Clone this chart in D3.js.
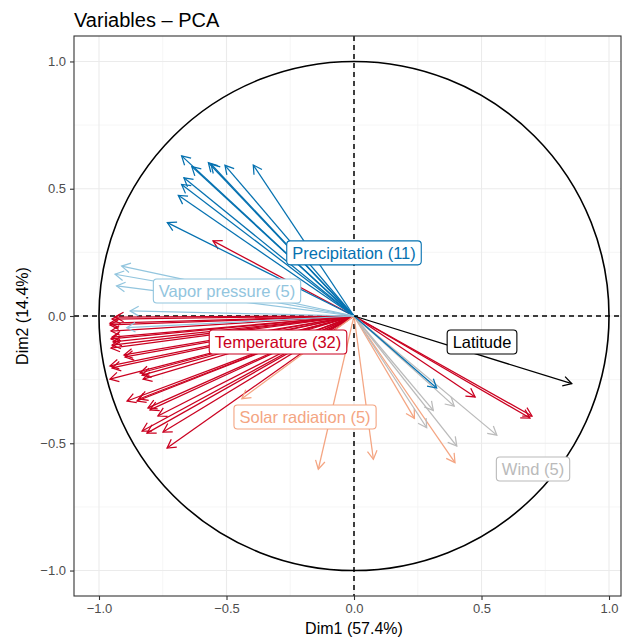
<!DOCTYPE html>
<html>
<head>
<meta charset="utf-8">
<script src="https://cdn.jsdelivr.net/npm/d3@7"></script>
<style>
  body { margin: 0; background: #fff; }
  text { font-family: "Liberation Sans", Arial, Helvetica, sans-serif; }
</style>
</head>
<body>
<svg id="chart" width="623" height="641"></svg>
<script>
// variable coordinates (Dim1, Dim2), one array per group
const temperature = [
  [-0.937, -0.004], [-0.949, -0.012], [-0.957, -0.028], [-0.953, -0.059],
  [-0.957, -0.035], [-0.949, -0.083], [-0.953, -0.090], [-0.945, -0.102],
  [-0.949, -0.114], [-0.953, -0.126], [-0.902, -0.153], [-0.898, -0.161],
  [-0.957, -0.196], [-0.949, -0.204], [-0.839, -0.224], [-0.831, -0.232],
  [-0.957, -0.248], [-0.827, -0.248], [-0.890, -0.334], [-0.851, -0.334],
  [-0.843, -0.326], [-0.808, -0.361], [-0.800, -0.369], [-0.769, -0.393],
  [-0.831, -0.452], [-0.812, -0.460], [-0.749, -0.456], [-0.733, -0.519],
  [-0.553, 0.295], [0.475, -0.318], [0.690, -0.401], [0.698, -0.393]
];
const solar = [[0.237, -0.402], [0.396, -0.576], [0.076, -0.563], [-0.140, -0.602], [-0.440, -0.325]];
const wind = [[0.393, -0.354], [0.311, -0.371], [0.285, -0.439], [0.403, -0.511], [0.560, -0.468]];
const precipitation = [
  [-0.676, 0.629], [-0.571, 0.602], [-0.561, 0.597], [-0.506, 0.592],
  [-0.395, 0.593], [-0.636, 0.587], [-0.667, 0.543], [-0.676, 0.517],
  [-0.689, 0.474], [-0.732, 0.367], [0.324, -0.283]
];
const vapor = [[-0.911, 0.196], [-0.937, 0.164], [-0.931, 0.118], [-0.878, 0.020], [-0.891, -0.046]];
const latitude = [[0.854, -0.266]];

const groupNames = ["Temperature (32)", "Solar radiation (5)", "Wind (5)", "Precipitation (11)", "Vapor pressure (5)", "Latitude"];
const groupData = [temperature, solar, wind, precipitation, vapor, latitude];
const groupColors = ["#CA0020", "#F4A582", "#BABABA", "#0571B0", "#92C5DE", "#000000"];
// label anchors in data units
const labelAt = [[-0.298, -0.102], [-0.192, -0.397], [0.702, -0.601], [0.0, 0.248], [-0.498, 0.098], [0.502, -0.102]];

const ticks = [-1, -0.5, 0, 0.5, 1];
const minorTicks = [-0.75, -0.25, 0.25, 0.75];

const svg = d3.select("#chart");
const margin = { top: 36, right: 2, bottom: 45, left: 74 };
const width = +svg.attr("width") - margin.left - margin.right;
const height = +svg.attr("height") - margin.top - margin.bottom;

const x = d3.scaleLinear().domain([-1.098, 1.047]).range([0, width]);
const y = d3.scaleLinear().domain([-1.1, 1.1]).range([height, 0]);

const g = svg.append("g").attr("transform", "translate(" + margin.left + "," + margin.top + ")");

// grid
g.selectAll(".minx").data(minorTicks).join("line")
  .attr("x1", d => x(d)).attr("x2", d => x(d)).attr("y1", 0).attr("y2", height)
  .attr("stroke", "#F2F2F2").attr("stroke-width", 0.7);
g.selectAll(".miny").data(minorTicks).join("line")
  .attr("y1", d => y(d)).attr("y2", d => y(d)).attr("x1", 0).attr("x2", width)
  .attr("stroke", "#F2F2F2").attr("stroke-width", 0.7);
g.selectAll(".majx").data(ticks).join("line")
  .attr("x1", d => x(d)).attr("x2", d => x(d)).attr("y1", 0).attr("y2", height)
  .attr("stroke", "#EBEBEB").attr("stroke-width", 1.1);
g.selectAll(".majy").data(ticks).join("line")
  .attr("y1", d => y(d)).attr("y2", d => y(d)).attr("x1", 0).attr("x2", width)
  .attr("stroke", "#EBEBEB").attr("stroke-width", 1.1);

// axes
const fmt = d => d3.format(".1f")(d).replace("-", "\u2212");
const xAxis = g.append("g").attr("transform", "translate(0," + height + ")")
  .call(d3.axisBottom(x).tickValues(ticks).tickFormat(fmt).tickSize(4).tickPadding(4));
const yAxis = g.append("g")
  .call(d3.axisLeft(y).tickValues(ticks).tickFormat(fmt).tickSize(4).tickPadding(4));
[xAxis, yAxis].forEach(a => {
  a.select(".domain").remove();
  a.selectAll(".tick line").attr("stroke", "#333333").attr("stroke-width", 1.1);
  a.selectAll(".tick text").attr("fill", "#4D4D4D").style("font-size", "13px")
    .style("font-family", "'Liberation Sans', Arial, sans-serif");
});

// reference lines and circle
g.append("line").attr("x1", x(0)).attr("x2", x(0)).attr("y1", 0).attr("y2", height)
  .attr("stroke", "#000").attr("stroke-width", 1.5).attr("stroke-dasharray", "5,4");
g.append("line").attr("y1", y(0)).attr("y2", y(0)).attr("x1", 0).attr("x2", width)
  .attr("stroke", "#000").attr("stroke-width", 1.5).attr("stroke-dasharray", "5,4");
g.append("ellipse")
  .attr("cx", x(0)).attr("cy", y(0))
  .attr("rx", x(1) - x(0)).attr("ry", y(0) - y(1))
  .attr("fill", "none").attr("stroke", "#000").attr("stroke-width", 1.6);

// arrow markers
const defs = svg.append("defs");
groupColors.forEach((c, i) => {
  defs.append("marker")
    .attr("id", "arr" + i)
    .attr("markerUnits", "userSpaceOnUse")
    .attr("viewBox", "-11 -6 13 12")
    .attr("markerWidth", 13).attr("markerHeight", 12)
    .attr("refX", 0).attr("refY", 0)
    .attr("orient", "auto")
    .append("path")
    .attr("d", "M-8.5,-4.8L0,0L-8.5,4.8")
    .attr("fill", "none").attr("stroke", c).attr("stroke-width", 1.25);
});

// arrows
groupData.forEach((arr, i) => {
  g.append("g").selectAll("line").data(arr).join("line")
    .attr("x1", x(0)).attr("y1", y(0))
    .attr("x2", d => x(d[0])).attr("y2", d => y(d[1]))
    .attr("stroke", groupColors[i]).attr("stroke-width", 1.25)
    .attr("marker-end", "url(#arr" + i + ")");
});

// panel border
g.append("rect").attr("width", width).attr("height", height)
  .attr("fill", "none").attr("stroke", "#333333").attr("stroke-width", 1.1);

// group labels
groupNames.forEach((name, i) => {
  const lg = g.append("g").attr("transform", "translate(" + x(labelAt[i][0]) + "," + y(labelAt[i][1]) + ")");
  const t = lg.append("text").text(name)
    .attr("text-anchor", "middle").attr("dy", "0.36em")
    .style("font-size", "16.5px").attr("fill", groupColors[i]);
  const w = t.node().getComputedTextLength();
  lg.insert("rect", "text")
    .attr("x", -w / 2 - 5.5).attr("y", -12)
    .attr("width", w + 11).attr("height", 24)
    .attr("rx", 3.5)
    .attr("fill", "#fff").attr("stroke", groupColors[i]).attr("stroke-width", 1.1);
});

// titles
svg.append("text").attr("x", margin.left).attr("y", 27)
  .style("font-size", "20px").attr("fill", "#000").text("Variables \u2013 PCA");
svg.append("text").attr("x", margin.left + x(0)).attr("y", 634)
  .attr("text-anchor", "middle").style("font-size", "16px").text("Dim1 (57.4%)");
svg.append("text")
  .attr("transform", "translate(28," + (margin.top + y(0)) + ") rotate(-90)")
  .attr("text-anchor", "middle").style("font-size", "16px").text("Dim2 (14.4%)");
</script>
</body>
</html>
